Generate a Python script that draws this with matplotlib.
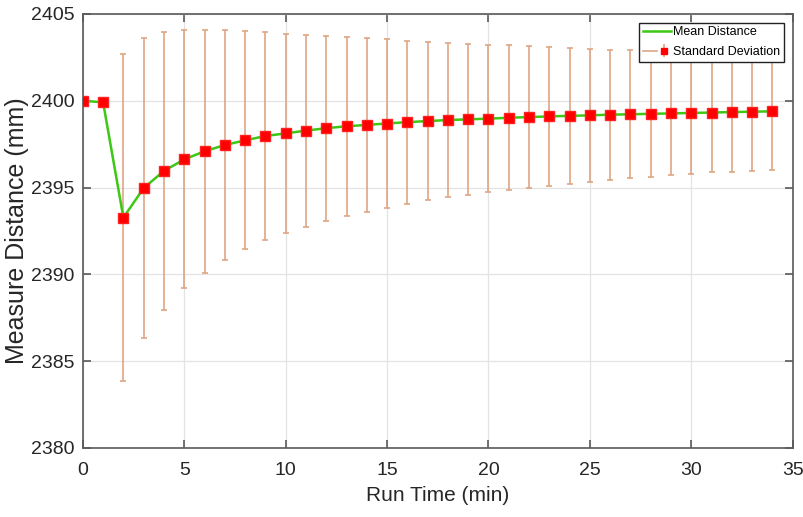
import matplotlib
matplotlib.use('Agg')
import matplotlib.pyplot as plt
from matplotlib.lines import Line2D
from matplotlib.legend_handler import HandlerTuple
import numpy as np

plt.rcParams['font.family'] = ['Liberation Sans', 'DejaVu Sans']

# run time in minutes, mean measured distance and its standard deviation (mm)
run_time = list(range(35))
mean_dist = [2400.00, 2399.91, 2393.27, 2394.97, 2395.96, 2396.62, 2397.09,
             2397.45, 2397.72, 2397.97, 2398.12, 2398.28, 2398.42, 2398.53,
             2398.61, 2398.69, 2398.77, 2398.83, 2398.89, 2398.93, 2398.97,
             2399.02, 2399.06, 2399.10, 2399.13, 2399.16, 2399.20, 2399.22,
             2399.25, 2399.27, 2399.30, 2399.32, 2399.35, 2399.37, 2399.39]
std_dist = [0.0, 0.0, 9.41, 8.63, 8.00, 7.43, 7.00, 6.60, 6.28, 5.98, 5.72,
            5.53, 5.33, 5.16, 4.99, 4.84, 4.70, 4.55, 4.45, 4.33, 4.24, 4.17,
            4.09, 4.00, 3.90, 3.83, 3.75, 3.69, 3.63, 3.57, 3.53, 3.45, 3.45,
            3.41, 3.35]

bar_col = '#DFA584'
line_col = '#3CC814'
ax_col = '#5A5A5A'
txt_col = '#262626'

fig = plt.figure(figsize=(8.04, 5.17), dpi=100)
ax = fig.add_axes([0.103, 0.1335, 0.883, 0.8395])

eb = ax.errorbar(run_time, mean_dist, yerr=std_dist, fmt='none',
                 ecolor=bar_col, elinewidth=1.2, capsize=2.5, capthick=1.2,
                 zorder=2)
mean_line, = ax.plot(run_time, mean_dist, color=line_col, lw=1.8, zorder=3)
ax.plot(run_time, mean_dist, 's', color='red', ms=6.5, mec='#FF2020',
        zorder=4)

ax.set_xlim(0, 35)
ax.set_ylim(2380, 2405)
ax.set_xticks(np.arange(0, 36, 5))
ax.set_yticks(np.arange(2380, 2406, 5))
ax.grid(True, color='#E3E3E3', lw=0.9)
ax.set_axisbelow(True)
for s in ax.spines.values():
    s.set_color(ax_col)
    s.set_linewidth(1.2)
ax.tick_params(direction='in', length=6, width=1.2, color=ax_col,
               top=True, right=True, labelsize=14, labelcolor=txt_col)
ax.tick_params(axis='x', pad=10)
ax.tick_params(axis='y', pad=6)

ax.set_xlabel('Run Time (min)', fontsize=15, color=txt_col, labelpad=5)
ax.set_ylabel('Measure Distance (mm)', fontsize=18, color=txt_col,
              labelpad=1)

# legend entry for the error bars: horizontal line plus bar and marker
sd_line = Line2D([], [], color=bar_col, lw=1.2)
sd_mark = ax.errorbar([], [], yerr=[], fmt='s', color='red', ms=5,
                      ecolor=bar_col, elinewidth=1.2, capsize=2.5)
leg = ax.legend([mean_line, (sd_line, sd_mark)],
                ['Mean Distance', 'Standard Deviation'],
                handler_map={tuple: HandlerTuple(ndivide=None, pad=0)},
                loc='upper right', fontsize=9, frameon=True, fancybox=False,
                edgecolor='#222222', framealpha=1, borderaxespad=0.7,
                handlelength=2.2, handletextpad=0.2, borderpad=0.3,
                labelspacing=0.6)
leg.get_frame().set_linewidth(1.0)

fig.savefig('out.png', dpi=100)
